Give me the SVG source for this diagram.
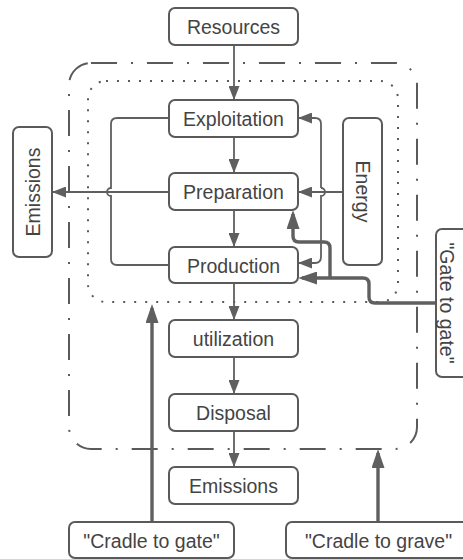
<svg xmlns="http://www.w3.org/2000/svg" width="463" height="559" viewBox="0 0 463 559">
<style>
.box{fill:#fff;stroke:#5a5a5a;stroke-width:2}
.t{font-family:"Liberation Sans",Arial,sans-serif;font-size:19.5px;fill:#444;text-anchor:middle;dominant-baseline:central}
.ln{fill:none;stroke:#5f5f5f;stroke-width:1.8}
.tk{fill:none;stroke:#5f5f5f;stroke-width:3.4}
</style>
<defs>
<marker id="a" viewBox="0 0 14 11" refX="14" refY="5.5" markerWidth="14" markerHeight="11" markerUnits="userSpaceOnUse" orient="auto"><path d="M0,0 L14,5.5 L0,11 z" fill="#5f5f5f"/></marker>
<marker id="b" viewBox="0 0 19 13" refX="15" refY="6.5" markerWidth="19" markerHeight="13" markerUnits="userSpaceOnUse" orient="auto"><path d="M0,0 L19,6.5 L0,13 z" fill="#5f5f5f"/></marker>
</defs>
<g id="boundaries">
<rect x="69" y="63" width="348" height="386" rx="22" fill="none" stroke="#5a5a5a" stroke-width="2" stroke-dasharray="26 14 2 14"/>
<rect x="88" y="81" width="310" height="221" rx="18" fill="none" stroke="#5a5a5a" stroke-width="2" stroke-dasharray="2 9"/>
</g>
<g id="connectors">
<path class="ln" d="M234,45 V100" marker-end="url(#a)"/>
<path class="ln" d="M234,137 V173" marker-end="url(#a)"/>
<path class="ln" d="M234,210 V247" marker-end="url(#a)"/>
<path class="ln" d="M234,283 V320" marker-end="url(#a)"/>
<path class="ln" d="M234,357 V394" marker-end="url(#a)"/>
<path class="ln" d="M234,431 V467" marker-end="url(#a)"/>
<path class="ln" d="M169,118 H117 Q111,118 111,124 V188 a4,4 0 0 0 0,8 V259 Q111,265 117,265 H169"/>
<path class="ln" d="M169,192 H52" marker-end="url(#a)"/>
<path class="ln" d="M343,192 H298" marker-end="url(#a)"/>
<path class="ln" d="M321,188 V124 Q321,118 315,118 H298" marker-end="url(#a)"/>
<path class="ln" d="M321,188 a4,4 0 0 1 0,8 V257 Q321,263 315,263 H298" marker-end="url(#a)"/>
<path class="tk" d="M436,303 H375 Q369,303 369,297 V284 Q369,278 363,278 H302" marker-end="url(#b)"/>
<path class="tk" d="M330,278 V248 Q330,242 324,242 H299 Q293,242 293,236 V214" marker-end="url(#b)"/>
<path class="tk" d="M152,522 V308" marker-end="url(#b)"/>
<path class="tk" d="M378,522 V453" marker-end="url(#b)"/>
</g>
<g id="resources"><rect class="box" x="169" y="8" width="129" height="37" rx="6"/><text class="t" x="233.5" y="27">Resources</text></g>
<g id="exploitation"><rect class="box" x="169" y="100" width="129" height="37" rx="6"/><text class="t" x="233.5" y="119">Exploitation</text></g>
<g id="preparation"><rect class="box" x="169" y="173" width="129" height="37" rx="6"/><text class="t" x="233.5" y="192">Preparation</text></g>
<g id="production"><rect class="box" x="169" y="247" width="129" height="36" rx="6"/><text class="t" x="233.5" y="265.5">Production</text></g>
<g id="utilization"><rect class="box" x="169" y="320" width="129" height="37" rx="6"/><text class="t" x="233.5" y="339">utilization</text></g>
<g id="disposal"><rect class="box" x="169" y="394" width="129" height="37" rx="6"/><text class="t" x="233.5" y="413">Disposal</text></g>
<g id="emissions-bottom"><rect class="box" x="169" y="467" width="129" height="37" rx="6"/><text class="t" x="233.5" y="486">Emissions</text></g>
<g id="emissions-left"><rect class="box" x="13" y="127" width="39" height="130" rx="6"/><text class="t" transform="translate(32.5,192) rotate(-90)" x="0" y="0">Emissions</text></g>
<g id="energy"><rect class="box" x="343" y="118" width="39" height="147" rx="6"/><text class="t" transform="translate(362.5,191.5) rotate(90)" x="0" y="0">Energy</text></g>
<g id="gate-to-gate"><rect class="box" x="436" y="229" width="45" height="148" rx="6"/><text class="t" transform="translate(447,303) rotate(90)" x="0" y="0">"Gate to gate"</text></g>
<g id="cradle-to-gate"><rect class="box" x="69" y="522" width="165" height="36" rx="6"/><text class="t" x="151.5" y="540.5">"Cradle to gate"</text></g>
<g id="cradle-to-grave"><rect class="box" x="286" y="522" width="190" height="36" rx="6"/><text class="t" x="378.5" y="540.5">"Cradle to grave"</text></g>
</svg>
